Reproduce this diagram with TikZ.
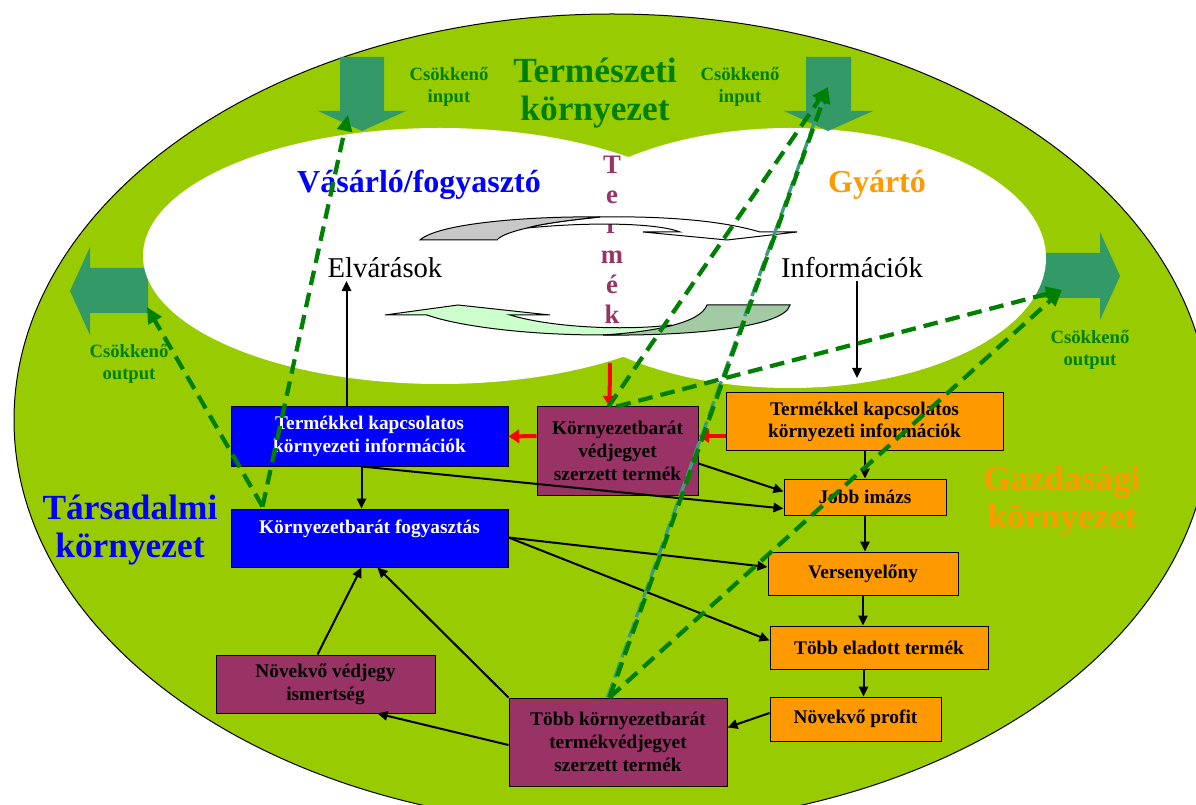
\documentclass[tikz,border=0pt]{standalone}
\usepackage{fontspec}
\setmainfont{Liberation Serif}
\usetikzlibrary{arrows.meta,calc}
\definecolor{bggreen}{HTML}{99CC00}
\definecolor{arrteal}{HTML}{339966}
\definecolor{dkgreen}{HTML}{008000}
\definecolor{plum}{HTML}{993366}
\definecolor{orng}{HTML}{FF9900}
\definecolor{tealdash}{HTML}{3A9C80}
\definecolor{lgreen}{HTML}{CCFFCC}
\definecolor{mgreen}{HTML}{A3CBA3}
\definecolor{lgray}{HTML}{C8C8C8}
\begin{document}
\begin{tikzpicture}[x=0.75pt,y=-0.75pt,
  box/.style={draw=black, line width=0.75pt, font=\bfseries\fontsize{14.5}{17}\selectfont, align=center, inner sep=0pt},
  bluebox/.style={box, fill=blue, text=white},
  plumbox/.style={box, fill=plum, text=black},
  orbox/.style={box, fill=orng, text=black},
  lbl/.style={font=\bfseries\fontsize{14}{16}\selectfont, text=dkgreen, align=center},
  big/.style={font=\bfseries\fontsize{26.5}{28.5}\selectfont, align=center},
  mid/.style={font=\bfseries\fontsize{24}{28}\selectfont},
  reg/.style={font=\fontsize{21.5}{25}\selectfont, inner sep=2pt},
  blk/.style={line width=1.5pt, -{Triangle[length=7.5pt,width=7pt]}},
  redarr/.style={red, line width=3pt, -{Triangle[length=8pt,width=10pt]}},
  gdash/.style={dkgreen, line width=3.2pt, dash pattern=on 11pt off 6pt, -{Triangle[length=12pt,width=11pt]}},
  tdash/.style={tealdash, line width=2.5pt, dash pattern=on 12pt off 4pt},
  deco/.style={draw=black, line width=0.75pt}
]
\useasboundingbox (0,0) rectangle (1196,805);
\clip (0,0) rectangle (1196,805);
\fill[white] (0,0) rectangle (1196,805);
% outer environment ellipse
\filldraw[fill=bggreen, draw=black, line width=0.75pt] (612,420) ellipse [x radius=448.5pt, y radius=304.5pt];
% side output arrows
\fill[arrteal] (148,268) -- (90,268) -- (90,247) -- (70,291) -- (90,335) -- (90,313) -- (148,313) -- cycle;
\fill[arrteal] (1030,253) -- (1100,253) -- (1100,232) -- (1120,276) -- (1100,320) -- (1100,298) -- (1030,298) -- cycle;
% inner white area
\fill[white] (440,256) ellipse [x radius=222.75pt, y radius=96pt];
\fill[white] (790,258) ellipse [x radius=192pt, y radius=97.5pt];
% top input arrows
\fill[arrteal] (340,57) -- (384,57) -- (384,111) -- (406,111) -- (362,131) -- (318,111) -- (340,111) -- cycle;
\fill[arrteal] (806,57) -- (851,57) -- (851,111) -- (873,111) -- (828,131) -- (784,111) -- (806,111) -- cycle;
% labels
\node[lbl] (inL) at (449,87) {Csökkenő\\input};
\node[lbl] (inR) at (740,87) {Csökkenő\\input};
\node[lbl] (outL) at (129,364) {Csökkenő\\output};
\node[lbl] (outR) at (1090,350) {Csökkenő\\output};
\node[big, text=dkgreen] (nat) at (595,93) {Természeti\\környezet};
\node[big, text=blue] (tars) at (130,530) {Társadalmi\\környezet};
\node[big, text=orng] (gazd) at (1062,501) {Gazdasági\\környezet};
\node[mid, text=blue] (vas) at (419,185) {Vásárló/fogyasztó};
\node[mid, text=orng] (gyar) at (877,185) {Gyártó};
\node[reg] (elvar) at (385,268) {Elvárások};
\node[reg] (info) at (852,268) {Információk};
\node[font=\bfseries\fontsize{20}{22.5}\selectfont, text=plum, align=center] (termek) at (612,240) {T\\e\\r\\m\\é\\k};
% decorative curved arrows (upper, grey)
\filldraw[deco, fill=white] (527,228) .. controls (600,221) and (660,224) .. (680,232) -- (643,232) -- (727,240) -- (797,232) -- (760,232) .. controls (720,220) and (660,216) .. (600,217) .. controls (570,220) and (540,224) .. (527,228) -- cycle;
\filldraw[deco, fill=lgray] (420,240) .. controls (440,222) and (540,216) .. (600,217) .. controls (570,220) and (540,224) .. (527,228) .. controls (510,232) and (500,236) .. (497,240) -- cycle;
% decorative curved arrow (lower, green)
\filldraw[deco, fill=lgreen] (385,315) -- (458,305) -- (550,315) -- (510,315) .. controls (550,327) and (620,331) .. (672,325) .. controls (650,332) and (630,335) .. (603,335) .. controls (520,335) and (455,325) .. (427,315) -- cycle;
\filldraw[deco, fill=mgreen] (707,305) -- (790,305) .. controls (785,326) and (700,336) .. (603,335) .. controls (650,332) and (700,324) .. (707,305) -- cycle;
% boxes
\node[bluebox, minimum width=207.75pt, minimum height=44.25pt] (b1) at (369.5,436.5) {Termékkel kapcsolatos\\környezeti információk};
\node[bluebox, minimum width=207.75pt, minimum height=43.5pt, text height=10pt, text depth=16.5pt] (b2) at (369.5,538) {Környezetbarát fogyasztás};
\node[plumbox, minimum width=120.75pt, minimum height=66pt] (p1) at (617.5,451) {Környezetbarát\\védjegyet\\szerzett termék};
\node[orbox, minimum width=207.75pt, minimum height=43.5pt] (o1) at (864.5,422) {Termékkel kapcsolatos\\környezeti információk};
\node[orbox, minimum width=121.5pt, minimum height=27pt] (jobb) at (865,497) {Jobb imázs};
\node[orbox, minimum width=142.5pt, minimum height=32.25pt] (verseny) at (863,573.5) {Versenyelőny};
\node[orbox, minimum width=163.5pt, minimum height=32.25pt] (eladott) at (879,647.5) {Több eladott termék};
\node[orbox, minimum width=128.25pt, minimum height=33pt] (profit) at (855.5,719) {Növekvő profit};
\node[plumbox, minimum width=163.5pt, minimum height=66pt] (p2) at (618,742) {Több környezetbarát\\termékvédjegyet\\szerzett termék};
\node[plumbox, minimum width=164.25pt, minimum height=43.5pt] (nv) at (325.5,684) {Növekvő védjegy\\ismertség};
% free-end coordinates
\coordinate (infoarr) at (857,378);
\coordinate (redtop) at (610,363);
\coordinate (tl) at (348,115);
\coordinate (lo) at (147,307);
\coordinate (tr) at (828,87);
\coordinate (rt) at (1062,290);
% black connectors
\coordinate (ea) at ($(b1.north west)+(116,0)$);
\draw[blk] (ea) -- (elvar.south -| ea);
\draw[blk] (info.south -| infoarr) -- (infoarr);
\coordinate (b1s) at ($(b1.south west)+(131,0)$);
\draw[blk] (b1s) -- ($(b2.north west)+(131,0)$);
\draw[blk] (b1s) -- ($(jobb.south west)+(0,-7)$);
\draw[blk] ($(p1.south east)+(0,-32)$) -- ($(jobb.north west)+(0,13)$);
\draw[blk] (o1.south -| jobb.north) -- (jobb.north);
\draw[blk] (jobb.south) -- (verseny.north -| jobb.south);
\coordinate (b2e) at ($(b2.north east)+(0,29)$);
\draw[blk] (b2e) -- ($(verseny.west)+(0,-6.5)$);
\draw[blk] (b2e) -- ($(eladott.west)+(0,-7)$);
\draw[blk] (verseny.south) -- (verseny.south |- eladott.north);
\draw[blk] ($(eladott.south west)+(94,0)$) -- ($(profit.north west)+(94,0)$);
\draw[blk] ($(profit.west)+(0,-6)$) -- ($(p2.north east)+(0,30)$);
\draw[blk] ($(p2.west)+(0,3)$) -- ($(nv.south west)+(162,0)$);
\draw[blk] (p2.north west) -- ($(b2.south west)+(147,0)$);
\draw[blk] ($(nv.north west)+(102,0)$) -- ($(b2.south west)+(131,0)$);
% red connectors
\draw[redarr] (redtop) -- ($(p1.north west)+(73,0)$);
\draw[redarr] ($(o1.west)+(0,14)$) -- ($(p1.east)+(0,-15)$);
\draw[redarr] ($(p1.west)+(0,-15)$) -- (b1.east);
% green dashed connectors
\coordinate (b2t) at ($(b2.north west)+(32,-2)$);
\draw[gdash] (b2t) -- (tl);
\draw[gdash] (b2t) -- (lo);
\draw[gdash] ($(p1.north west)+(72,0)$) -- (tr);
\draw[gdash] ($(p1.north west)+(80,0)$) -- (rt);
\coordinate (p2t) at ($(p2.north west)+(101,0)$);
\draw[tdash] ($(p2t)+(-2,0)$) -- ($(tr)+(-3,6)$);
\draw[gdash] (p2t) -- (tr);
\draw[gdash] (p2t) -- (rt);
\end{tikzpicture}
\end{document}
